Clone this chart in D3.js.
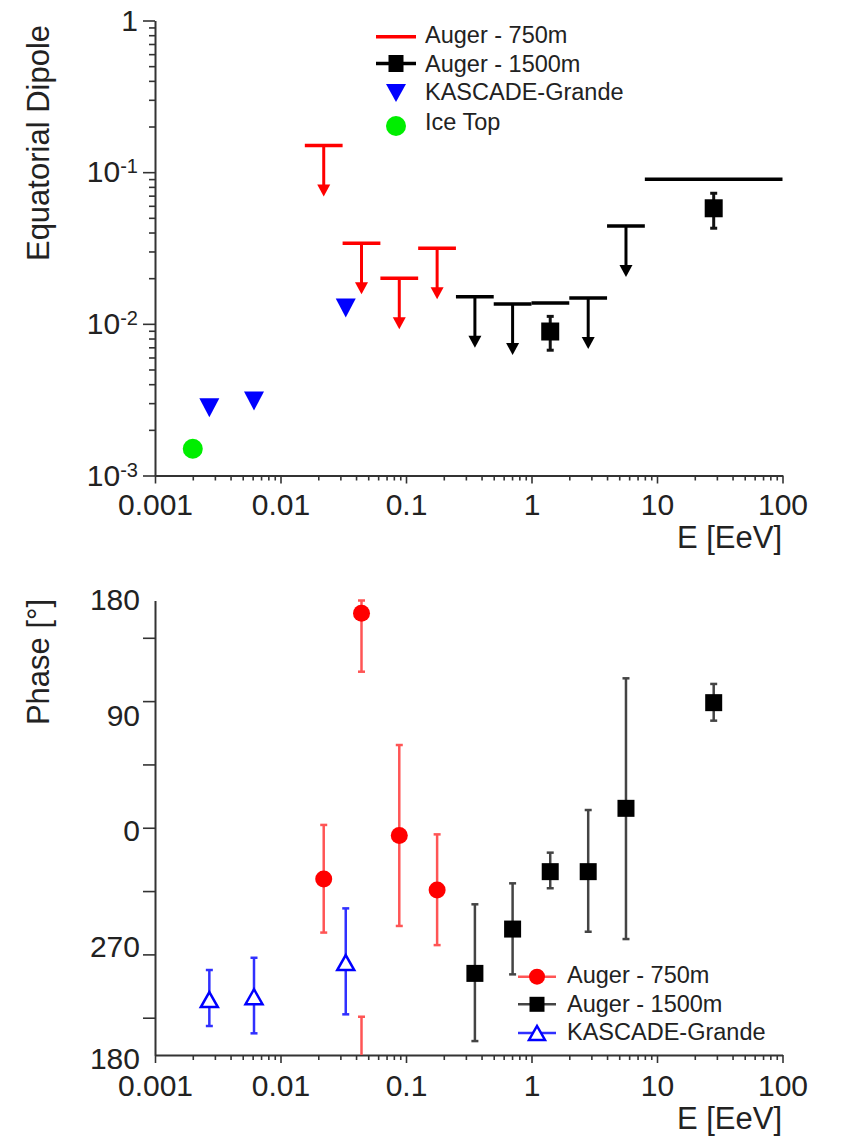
<!DOCTYPE html>
<html><head><meta charset="utf-8">
<script src="https://cdn.jsdelivr.net/npm/d3@7"></script>
<style>
body{margin:0;background:#fff}
svg{display:block}
text{font-family:"Liberation Sans",Arial,Helvetica,sans-serif;fill:#222}
</style>
</head><body>
<svg id="c" width="841" height="1138"></svg>
<script>
// ---------------- DATA ----------------
// x-axis (energy, EeV)
const xTickValues = [0.001, 0.01, 0.1, 1, 10, 100];
const xTickLabels = ["0.001", "0.01", "0.1", "1", "10", "100"];
// top y-axis (equatorial dipole amplitude)
const yTopTickValues = [0.001, 0.01, 0.1, 1];
const yTopTickBase = ["10", "10", "10", "1"];
const yTopTickExp = ["-3", "-2", "-1", ""];
// bottom y-axis (phase, degrees)
const phaseTickValues = [-135, -90, -45, 0, 45, 90, 135];
const phaseLabelValues = [-180, -90, 0, 90, 180];
const phaseLabels = ["180", "270", "0", "90", "180"];

// Auger 750m
const E750 = [0.0221, 0.0442, 0.0884, 0.177];
const bins750 = [0.015625, 0.03125, 0.0625, 0.125, 0.25];
const ul750 = [0.150, 0.034, 0.020, 0.0315];
const phase750 = [-36.4, 152.4, -5.5, -44.3];
const phase750Lo = [-74.5, 110.9, -69.8, -83.4];
const phase750Hi = [2.0, 225.7, 58.8, -4.7];

// Auger 1500m
const E1500 = [0.354, 0.707, 1.41, 2.83, 5.66, 28.3];
const bins1500 = [0.25, 0.5, 1, 2, 4, 8, 100];
const ul1500 = [0.0151, 0.0135, 0.0137, 0.0148, 0.0442, 0.0898];
const amp1500 = [null, null, 0.0089, null, null, 0.0578];
const amp1500Lo = [null, null, 0.0067, null, null, 0.0427];
const amp1500Hi = [null, null, 0.0112, null, null, 0.0726];
const phase1500 = [-103.5, -72.0, -31.2, -31.2, 13.8, 88.9];
const phase1500Lo = [-151.6, -104.2, -43.0, -73.9, -79.1, 76.1];
const phase1500Hi = [-54.4, -39.5, -17.7, 12.6, 106.2, 102.2];

// KASCADE-Grande
const EKG = [0.00271, 0.00615, 0.0331];
const ulKG = [0.0028, 0.0031, 0.0127];
const phaseKG = [-122.1, -120.1, -95.8];
const phaseKGLo = [-140.9, -146.1, -132.6];
const phaseKGHi = [-101.1, -92.4, -57.3];

// IceTop
const EIT = [0.002];
const ampIT = [0.0015];

// legends
const legendTop = ["Auger - 750m", "Auger - 1500m", "KASCADE-Grande", "Ice Top"];
const legendBot = ["Auger - 750m", "Auger - 1500m", "KASCADE-Grande"];

// ---------------- LAYOUT ----------------
const RED = "#ff0000", BLACK = "#000", BLUE = "#0000ff", GREEN = "#00ee00";
const svg = d3.select("#c");
svg.append("rect").attr("width", 841).attr("height", 1138).attr("fill", "#fff");

const X0 = 155, X1 = 782.5;
const xTop = d3.scaleLog().domain([1e-3, 100]).range([X0, X1]);
const yTop = d3.scaleLog().domain([1e-3, 1]).range([475.5, 20.5]);
const xBot = d3.scaleLog().domain([1e-3, 100]).range([X0, X1]);
const yBot = d3.scaleLinear().domain([-161.5, 161.5]).range([1055, 600.5]).clamp(true);

const xMinors = [];
for (let d = -3; d < 2; d++) for (let m = 2; m < 10; m++) xMinors.push(+(m * Math.pow(10, d)).toPrecision(3));
const yMinors = [];
for (let d = -3; d < 0; d++) for (let m = 2; m < 10; m++) yMinors.push(+(m * Math.pow(10, d)).toPrecision(3));

function styleAxis(g) {
  g.select(".domain").attr("stroke", "#333").attr("stroke-width", 2);
  g.selectAll(".tick line").attr("stroke", "#333").attr("stroke-width", 1.6);
  g.selectAll(".tick text").attr("font-size", 30).attr("fill", "#222")
    .style("font-family", '"Liberation Sans",Arial,sans-serif');
}

function drawXAxis(x, yPos, pad) {
  const gm = svg.append("g").attr("transform", `translate(0,${yPos})`)
    .call(d3.axisBottom(x).tickValues(xMinors).tickSize(5).tickFormat(""));
  gm.select(".domain").remove();
  styleAxis(gm);
  const g = svg.append("g").attr("transform", `translate(0,${yPos})`)
    .call(d3.axisBottom(x).tickValues(xTickValues).tickSize(8).tickSizeOuter(0)
      .tickPadding(pad).tickFormat((d, i) => xTickLabels[i]));
  styleAxis(g);
}

// ---------- TOP PLOT AXES ----------
drawXAxis(xTop, 475.5, 10);
{
  const gm = svg.append("g").attr("transform", `translate(${X0},0)`)
    .call(d3.axisLeft(yTop).tickValues(yMinors).tickSize(6).tickFormat(""));
  gm.select(".domain").remove();
  styleAxis(gm);
  const g = svg.append("g").attr("transform", `translate(${X0},0)`)
    .call(d3.axisLeft(yTop).tickValues(yTopTickValues).tickSize(12).tickSizeOuter(0).tickPadding(5).tickFormat(""));
  styleAxis(g);
  g.selectAll(".tick text").each(function (d, i) {
    const t = d3.select(this).attr("font-size", 30);
    t.append("tspan").text(yTopTickBase[i]);
    if (yTopTickExp[i]) t.append("tspan").attr("font-size", 20).attr("dy", -9).text(yTopTickExp[i]);
  });
}
svg.append("text").attr("transform", "translate(49,143) rotate(-90)").attr("text-anchor", "middle")
  .attr("font-size", 31).text("Equatorial Dipole");
svg.append("text").attr("x", 782).attr("y", 548).attr("text-anchor", "end").attr("font-size", 31).text("E [EeV]");

// ---------- TOP PLOT MARKS ----------
const gTop = svg.append("g");
function ulArrow(g, x, y, color) {
  const len = 51, head = 12, hw = 6.5;
  g.append("line").attr("x1", x).attr("x2", x).attr("y1", y).attr("y2", y + len - head + 1)
    .attr("stroke", color).attr("stroke-width", 3);
  g.append("path").attr("d", `M${x - hw},${y + len - head}L${x + hw},${y + len - head}L${x},${y + len}Z`).attr("fill", color);
}
function ulBar(g, xa, xb, y, color) {
  g.append("line").attr("x1", xa).attr("x2", xb).attr("y1", y).attr("y2", y)
    .attr("stroke", color).attr("stroke-width", 3.5);
}
E750.forEach((e, i) => {
  ulBar(gTop, xTop(bins750[i]), xTop(bins750[i + 1]), yTop(ul750[i]), RED);
  ulArrow(gTop, xTop(e), yTop(ul750[i]), RED);
});
E1500.forEach((e, i) => {
  ulBar(gTop, xTop(bins1500[i]), xTop(bins1500[i + 1]), yTop(ul1500[i]), BLACK);
  if (amp1500[i] == null) ulArrow(gTop, xTop(e), yTop(ul1500[i]), BLACK);
  else {
    const x = xTop(e), ya = yTop(amp1500Hi[i]), yb = yTop(amp1500Lo[i]);
    gTop.append("line").attr("x1", x).attr("x2", x).attr("y1", ya).attr("y2", yb).attr("stroke", "#111").attr("stroke-width", 3);
    [ya, yb].forEach(yy => gTop.append("line").attr("x1", x - 3.5).attr("x2", x + 3.5).attr("y1", yy).attr("y2", yy).attr("stroke", "#111").attr("stroke-width", 3));
    gTop.append("rect").attr("x", x - 9).attr("y", yTop(amp1500[i]) - 9).attr("width", 18).attr("height", 18).attr("fill", BLACK);
  }
});
function downTri(g, x, y, w, h, color) {
  g.append("path").attr("d", `M${x - w / 2},${y - h / 2}L${x + w / 2},${y - h / 2}L${x},${y + h / 2}Z`).attr("fill", color);
}
EKG.forEach((e, i) => downTri(gTop, xTop(e), yTop(ulKG[i]), 20, 19, BLUE));
EIT.forEach((e, i) => gTop.append("circle").attr("cx", xTop(e)).attr("cy", yTop(ampIT[i])).attr("r", 10).attr("fill", GREEN));

// top legend
{
  const lg = svg.append("g");
  const lx = 396, rows = [36.7, 63.5, 93, 126];
  const tb = [42.7, 71.7, 100, 130];
  lg.append("line").attr("x1", lx - 20).attr("x2", lx + 20).attr("y1", rows[0]).attr("y2", rows[0]).attr("stroke", RED).attr("stroke-width", 3.5);
  lg.append("line").attr("x1", lx - 20).attr("x2", lx + 20).attr("y1", rows[1]).attr("y2", rows[1]).attr("stroke", BLACK).attr("stroke-width", 3.5);
  lg.append("rect").attr("x", lx - 7.5).attr("y", rows[1] - 8.5).attr("width", 15).attr("height", 17).attr("fill", BLACK);
  downTri(lg, lx, rows[2], 20, 18, BLUE);
  lg.append("circle").attr("cx", lx).attr("cy", rows[3]).attr("r", 10).attr("fill", GREEN);
  legendTop.forEach((t, i) => lg.append("text").attr("x", 425).attr("y", tb[i]).attr("font-size", 23.5).text(t));
}

// ---------- BOTTOM PLOT AXES ----------
drawXAxis(xBot, 1055, 12);
{
  const g = svg.append("g").attr("transform", `translate(${X0},0)`)
    .call(d3.axisLeft(yBot).tickValues(phaseTickValues).tickSize(12).tickSizeOuter(0).tickFormat(""));
  styleAxis(g);
  const nudge = [3, -8, 2, 14, -1];
  phaseLabelValues.forEach((v, i) => {
    svg.append("text").attr("x", 140).attr("y", yBot(v) + nudge[i]).attr("dy", "0.36em")
      .attr("text-anchor", "end").attr("font-size", 30).text(phaseLabels[i]);
  });
}
svg.append("text").attr("transform", "translate(49,662) rotate(-90)").attr("text-anchor", "middle")
  .attr("font-size", 31).text("Phase [°]");
svg.append("text").attr("x", 782).attr("y", 1129).attr("text-anchor", "end").attr("font-size", 31).text("E [EeV]");

// ---------- BOTTOM PLOT MARKS ----------
const gBot = svg.append("g");
function errBar(g, x, lo, hi, color) {
  const segs = [];
  if (hi > 180) { segs.push([lo, 180, true, true]); segs.push([-180, hi - 360, false, true]); }
  else segs.push([lo, hi, true, true]);
  segs.forEach(([a, b, capA, capB]) => {
    const ya = yBot(a), yb = yBot(b);
    g.append("line").attr("x1", x).attr("x2", x).attr("y1", ya).attr("y2", yb).attr("stroke", color).attr("stroke-width", 2.5);
    if (capA) g.append("line").attr("x1", x - 3.5).attr("x2", x + 3.5).attr("y1", ya).attr("y2", ya).attr("stroke", color).attr("stroke-width", 2.5);
    if (capB) g.append("line").attr("x1", x - 3.5).attr("x2", x + 3.5).attr("y1", yb).attr("y2", yb).attr("stroke", color).attr("stroke-width", 2.5);
  });
}
function upTriOpen(g, x, y, w, h, color) {
  g.append("path").attr("d", `M${x - w / 2},${y + h / 2}L${x + w / 2},${y + h / 2}L${x},${y - h / 2}Z`)
    .attr("fill", "#fff").attr("stroke", color).attr("stroke-width", 2.5);
}
const RED_ERR = "#ff5555", BLK_ERR = "#444", BLU_ERR = "#3030ff";
E750.forEach((e, i) => errBar(gBot, xBot(e), phase750Lo[i], phase750Hi[i], RED_ERR));
E1500.forEach((e, i) => errBar(gBot, xBot(e), phase1500Lo[i], phase1500Hi[i], BLK_ERR));
EKG.forEach((e, i) => errBar(gBot, xBot(e), phaseKGLo[i], phaseKGHi[i], BLU_ERR));
E750.forEach((e, i) => gBot.append("circle").attr("cx", xBot(e)).attr("cy", yBot(phase750[i])).attr("r", 8.5).attr("fill", RED));
E1500.forEach((e, i) => gBot.append("rect").attr("x", xBot(e) - 8.5).attr("y", yBot(phase1500[i]) - 8.5).attr("width", 17).attr("height", 17).attr("fill", BLACK));
EKG.forEach((e, i) => upTriOpen(gBot, xBot(e), yBot(phaseKG[i]), 17, 15, BLUE));

// bottom legend
{
  const lg = svg.append("g");
  const lx = 537, rows = [976.7, 1004.3, 1033];
  const tb = [983.3, 1011.7, 1040];
  const cols = [RED_ERR, BLK_ERR, BLU_ERR];
  rows.forEach((r, i) => lg.append("line").attr("x1", lx - 19).attr("x2", lx + 19).attr("y1", r).attr("y2", r).attr("stroke", cols[i]).attr("stroke-width", 2.5));
  lg.append("circle").attr("cx", lx).attr("cy", rows[0]).attr("r", 8).attr("fill", RED);
  lg.append("rect").attr("x", lx - 7.5).attr("y", rows[1] - 7.5).attr("width", 15).attr("height", 15).attr("fill", BLACK);
  upTriOpen(lg, lx, rows[2], 16, 14, BLUE);
  legendBot.forEach((t, i) => lg.append("text").attr("x", 567).attr("y", tb[i]).attr("font-size", 23.5).text(t));
}
</script>
</body></html>
